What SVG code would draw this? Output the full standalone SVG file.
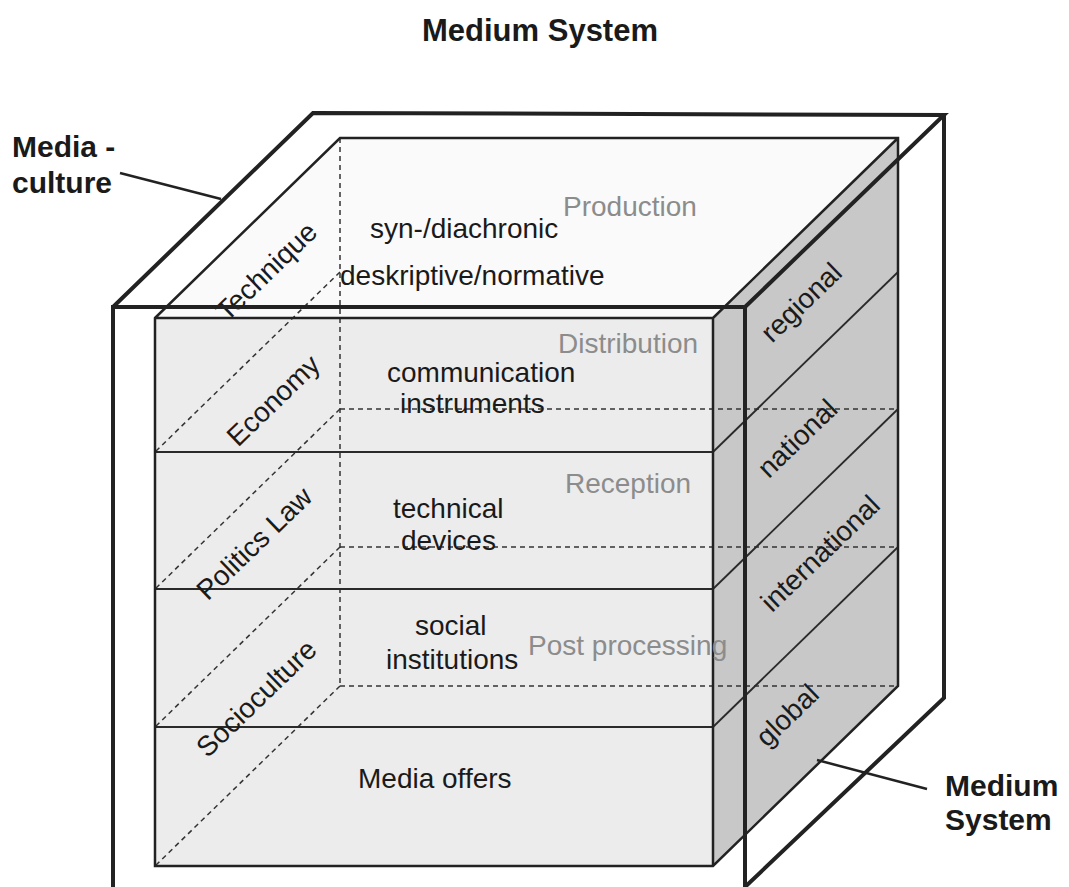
<svg xmlns="http://www.w3.org/2000/svg" width="1069" height="887" viewBox="0 0 1069 887">
<style>
  .t { font-family: "Liberation Sans", Arial, sans-serif; font-size: 28px; fill: #1a1a1a; }
  .g { font-family: "Liberation Sans", Arial, sans-serif; font-size: 28px; fill: #8c8c8c; }
  .b { font-family: "Liberation Sans", Arial, sans-serif; font-size: 30px; font-weight: bold; fill: #1a1a1a; }
  .edge { fill: none; stroke: #222; stroke-width: 2.5; stroke-linejoin: miter; }
  .thin { fill: none; stroke: #2a2a2a; stroke-width: 1.8; }
  .dash { fill: none; stroke: #333; stroke-width: 1.5; stroke-dasharray: 5 4; }
  .frame { fill: none; stroke: #222; stroke-width: 4; stroke-linejoin: miter; }
  .lead { fill: none; stroke: #222; stroke-width: 2.5; }
</style>
<rect width="1069" height="887" fill="#ffffff"/>

<text class="b" x="540" y="41" text-anchor="middle" style="font-size:31px">Medium System</text>

<g id="medium-system-cube">
  <polygon points="155,318 340,138 898,138 713,318" fill="#fafafa"/>
  <rect x="155" y="318" width="558" height="548" fill="#ececec"/>
  <polygon points="713,318 898,138 898,686 713,866" fill="#c8c8c8"/>
  <g id="hidden-edges">
    <line class="dash" x1="340" y1="138" x2="340" y2="686"/>
    <line class="dash" x1="340" y1="409" x2="898" y2="409"/>
    <line class="dash" x1="340" y1="547" x2="898" y2="547"/>
    <line class="dash" x1="340" y1="686" x2="898" y2="686"/>
    <line class="dash" x1="340" y1="272" x2="155" y2="452"/>
    <line class="dash" x1="340" y1="409" x2="155" y2="589"/>
    <line class="dash" x1="340" y1="547" x2="155" y2="727"/>
    <line class="dash" x1="340" y1="686" x2="155" y2="866"/>
  </g>
  <g id="slices">
    <line class="thin" x1="155" y1="452" x2="713" y2="452"/>
    <line class="thin" x1="155" y1="589" x2="713" y2="589"/>
    <line class="thin" x1="155" y1="727" x2="713" y2="727"/>
    <line class="thin" x1="713" y1="452" x2="898" y2="272"/>
    <line class="thin" x1="713" y1="589" x2="898" y2="409"/>
    <line class="thin" x1="713" y1="727" x2="898" y2="547"/>
  </g>
  <path class="edge" d="M155,318 L340,138 L898,138 L898,686 L713,866 L155,866 Z M155,318 H713 V866 M713,318 L898,138"/>
</g>

<g id="axis-labels">
  <text class="g" x="563" y="216">Production</text>
  <text class="t" x="370" y="238">syn-/diachronic</text>
  <text class="t" x="340" y="285">deskriptive/normative</text>
  <text class="g" x="558" y="353">Distribution</text>
  <text class="t" x="387" y="382">communication</text>
  <text class="t" x="400" y="413">instruments</text>
  <text class="g" x="565" y="493">Reception</text>
  <text class="t" x="393" y="518">technical</text>
  <text class="t" x="401" y="550">devices</text>
  <text class="t" x="415" y="635">social</text>
  <text class="t" x="386" y="669">institutions</text>
  <text class="g" x="528" y="655">Post processing</text>
  <text class="t" x="358" y="788">Media offers</text>

  <text class="t" transform="translate(266,271) rotate(-44)" x="0" y="10" text-anchor="middle">Technique</text>
  <text class="t" transform="translate(273,400) rotate(-44)" x="0" y="10" text-anchor="middle">Economy</text>
  <text class="t" transform="translate(254,543) rotate(-44)" x="0" y="10" text-anchor="middle">Politics Law</text>
  <text class="t" transform="translate(256,698) rotate(-44)" x="0" y="10" text-anchor="middle">Socioculture</text>

  <text class="t" transform="translate(801,302) rotate(-44)" x="0" y="10" text-anchor="middle">regional</text>
  <text class="t" transform="translate(797,438) rotate(-44)" x="0" y="10" text-anchor="middle">national</text>
  <text class="t" transform="translate(820,553) rotate(-44)" x="0" y="10" text-anchor="middle">international</text>
  <text class="t" transform="translate(787,715) rotate(-44)" x="0" y="10" text-anchor="middle">global</text>
</g>

<g id="media-culture-frame">
  <path class="frame" d="M113,890 V307 H745 V890 M113,307 L313,113 L944,115 L745,307 M944,115 V698 L745,887"/>
</g>

<g id="label-media-culture">
  <text class="b" x="12" y="157">Media -</text>
  <text class="b" x="12" y="193">culture</text>
</g>
<g id="label-medium-system">
  <text class="b" x="945" y="796">Medium</text>
  <text class="b" x="945" y="830">System</text>
</g>

<g id="connectors">
  <line class="lead" x1="120" y1="173" x2="221" y2="199"/>
  <line class="lead" x1="927" y1="789" x2="817" y2="760"/>
</g>
</svg>
